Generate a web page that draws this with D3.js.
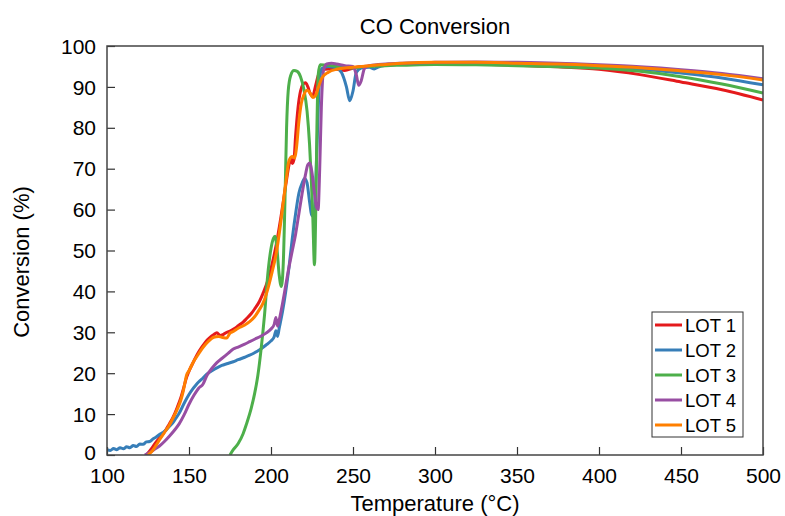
<!DOCTYPE html>
<html><head><meta charset="utf-8">
<script src="https://cdn.jsdelivr.net/npm/d3@7"></script>
<style>body{margin:0;background:#fff}svg text{font-family:"Liberation Sans",Arial,sans-serif}</style>
</head><body><svg id="c" width="785" height="516"></svg>
<script>
const seriesNames = ["LOT 1","LOT 2","LOT 3","LOT 4","LOT 5"];
const seriesColors = ["#e41a1c","#377eb8","#4daf4a","#984ea3","#ff7f00"];
const xTicks = [100,150,200,250,300,350,400,450,500];
const yTicks = [0,10,20,30,40,50,60,70,80,90,100];
// [temperature, conversion]
const lot1 = [[124,0],[127,1.5],[130,3.2],[133,4.6],[135,5.6],[138,7.6],[140,9],[143,11.8],[145,14],[147,16.8],[148,18.3],[150,20.5],[153,23],[155,24.6],[158,26.5],[160,27.6],[163,28.8],[165,29.4],[167,29.9],[169,29.2],[171,29.5],[173,30],[175,30.3],[178,31],[180,31.6],[183,32.5],[185,33.3],[188,34.6],[190,35.7],[193,37.6],[195,39.4],[198,42.6],[200,45.6],[203,51],[206,58],[209,66],[211,71],[212,72.6],[213,71.3],[214,72.2],[215,78],[216.5,85],[218,89],[219.5,90.6],[221,91],[222.5,90],[224,88.3],[225.5,87.8],[227,90],[229,93],[231,94.2],[235,94.4],[240,94.3],[245,94],[250,94.6],[255,95],[260,95.1],[270,95.4],[280,95.5],[300,95.7],[325,95.6],[350,95.3],[375,94.9],[400,94.3],[425,93],[450,91.2],[475,89.3],[500,86.8]];
const lot2 = [[100,1.3],[102,1.1],[104,1.6],[106,1.3],[108,1.8],[110,1.5],[112,2],[114,1.8],[116,2.3],[118,2.1],[120,2.7],[122,2.6],[124,3.2],[126,3.3],[128,3.9],[130,4.4],[132,5],[134,5.5],[136,6.1],[138,7],[140,7.8],[142,9],[144,10.2],[146,11.8],[148,13.4],[150,14.8],[152,16],[154,17],[156,17.9],[158.5,18.8],[161,19.8],[164,20.6],[167,21.3],[170,21.9],[173,22.3],[177,22.8],[180,23.3],[184,23.9],[187,24.4],[190,25],[194,26],[197,26.9],[200,27.9],[202,29],[203,30.4],[204,29],[205,31],[207,35],[209,40],[211,46],[213,53],[215,59],[217,64],[219,66.5],[220.5,67.6],[222,66.5],[223.5,62],[225,58.5],[226.5,60],[228,75],[229.5,91],[231,94.5],[235,95],[240,94.6],[243,93.5],[246,90],[248,86.6],[250,89],[252,93.5],[255,94.6],[260,94.8],[263,94.4],[265,94.8],[270,95.3],[280,95.6],[300,95.8],[325,95.9],[350,95.8],[375,95.5],[400,95],[425,94.4],[450,93.4],[475,92.2],[500,90.5]];
const lot3 = [[175,0],[177,1.3],[180,2.8],[183,5.2],[185,7.5],[188,11.5],[190,15],[192,19.5],[194,26],[196,34],[198,44],[200,50.5],[201.5,53],[202.5,53.5],[203.5,51],[205,44],[206.3,41.2],[207.5,47],[208.5,62],[209.5,80],[210.5,89],[212,92.8],[214,94],[216,93.8],[218,92.5],[220,89.5],[222,84],[223.5,76],[224.5,68],[225.5,58],[226.5,46.5],[227.3,60],[228,80],[228.8,93],[230,95.4],[235,95.3],[240,95],[245,94.8],[250,94.6],[255,94.9],[260,95],[270,95.2],[280,95.3],[300,95.5],[325,95.4],[350,95.2],[375,94.9],[400,94.6],[425,93.8],[450,92.5],[475,90.7],[500,88.5]];
const lot4 = [[123,0],[126,0.6],[129,1.4],[132,2.2],[135,3.3],[138,4.6],[141,6],[144,7.6],[147,9.8],[150,12.4],[153,14.6],[156,16.4],[158.5,17.3],[161,19.5],[164,21.2],[167,22.6],[170,23.6],[174,24.9],[177,25.9],[180,26.4],[184,27.1],[187,27.7],[190,28.3],[194,29.1],[197,29.8],[200,30.8],[202,32],[203,33.6],[204,31.5],[205,33],[207,37],[209,41.5],[211,46],[213,50],[215,54],[217,59],[219,64],[221,68.5],[222.5,71],[223.8,71.4],[225,69],[226.5,64],[227.8,60.5],[228.7,60],[229.7,70],[230.7,85],[232,94],[234,95.6],[237,95.8],[240,95.6],[245,95.2],[250,95],[252,93],[253.5,90.4],[255,91.5],[257,94.5],[260,95.2],[270,95.6],[280,95.8],[300,96],[325,96.1],[350,96],[375,95.8],[400,95.4],[425,94.9],[450,94.2],[475,93.3],[500,92]];
const lot5 = [[125,0],[128,1.2],[130,2.4],[133,4.3],[135,5.5],[138,7.3],[140,8.8],[143,11.3],[145,13.4],[146.5,15.6],[147.5,17.6],[148.5,19.5],[150,20.6],[153,23],[155,24.2],[158,26],[160,27],[163,28.2],[165,28.8],[168,29],[170,28.8],[173,28.6],[175,29.8],[177,30.2],[180,31],[184,31.8],[187,32.6],[190,33.8],[193,35.6],[195,37],[198,40.5],[200,43.6],[203.5,50],[206,57],[209,66.5],[211,72],[213,73],[214.5,72.6],[215.5,75],[217,81.5],[218.5,86],[220,88],[222,89.2],[224,88.4],[225.5,87.4],[227,87.8],[229,90],[231,92.2],[235,93.6],[240,94.3],[245,94.6],[250,94.8],[260,95.2],[270,95.5],[280,95.8],[300,96],[325,96],[350,95.8],[375,95.6],[400,95.2],[425,94.7],[450,93.9],[475,93],[500,91.7]];
const lots = [lot1, lot2, lot3, lot4, lot5];

const svg = d3.select("#c");
const m = {l:107, r:763, t:46, b:455};
const x = d3.scaleLinear().domain([100,500]).range([m.l, m.r]);
const y = d3.scaleLinear().domain([0,100]).range([m.b, m.t]);

svg.append("clipPath").attr("id","pc").append("rect")
  .attr("x",m.l).attr("y",m.t).attr("width",m.r-m.l).attr("height",m.b-m.t);

const line = d3.line().x(d=>x(d[0])).y(d=>y(d[1])).curve(d3.curveMonotoneX);
const g = svg.append("g").attr("clip-path","url(#pc)");
lots.forEach((s,i)=>{
  g.append("path").datum(s).attr("d",line).attr("fill","none")
   .attr("stroke",seriesColors[i]).attr("stroke-width",3).attr("stroke-linejoin","round");
});

const xAxis = d3.axisBottom(x).tickValues(xTicks).tickSizeInner(-8).tickSizeOuter(0).tickPadding(13);
const yAxis = d3.axisLeft(y).tickValues(yTicks).tickSizeInner(-8).tickSizeOuter(0).tickPadding(11);
const gx = svg.append("g").attr("transform",`translate(0,${m.b})`).call(xAxis);
const gy = svg.append("g").attr("transform",`translate(${m.l},0)`).call(yAxis);
[gx,gy].forEach(a=>{
  a.select(".domain").remove();
  a.selectAll("line").attr("stroke","#333").attr("stroke-width",1.2);
  a.selectAll("text").attr("font-size",21).attr("fill","#000").style("font-family","'Liberation Sans',Arial,sans-serif");
});
gy.selectAll("text").attr("dy",d=>d===0?"0.2em":"0.34em");

svg.append("rect").attr("x",m.l).attr("y",m.t).attr("width",m.r-m.l).attr("height",m.b-m.t)
  .attr("fill","none").attr("stroke","#444").attr("stroke-width",1.5);

svg.append("text").attr("x",435).attr("y",34).attr("text-anchor","middle").attr("font-size",22).attr("fill","#000").text("CO Conversion");
svg.append("text").attr("x",435).attr("y",511).attr("text-anchor","middle").attr("font-size",22).attr("fill","#000").text("Temperature (°C)");
svg.append("text").attr("transform","translate(29,262) rotate(-90)").attr("text-anchor","middle").attr("font-size",22).attr("fill","#000").text("Conversion (%)");

const lg = svg.append("g");
lg.append("rect").attr("x",652).attr("y",312).attr("width",91).attr("height",125).attr("fill","#fff").attr("stroke","#333").attr("stroke-width",1);
seriesNames.forEach((n,i)=>{
  const yy = 325 + i*25;
  lg.append("line").attr("x1",655).attr("x2",682).attr("y1",yy).attr("y2",yy).attr("stroke",seriesColors[i]).attr("stroke-width",3);
  lg.append("text").attr("x",685).attr("y",yy).attr("dy","0.36em").attr("font-size",18.5).attr("fill","#000").text(n);
});
</script></body></html>
